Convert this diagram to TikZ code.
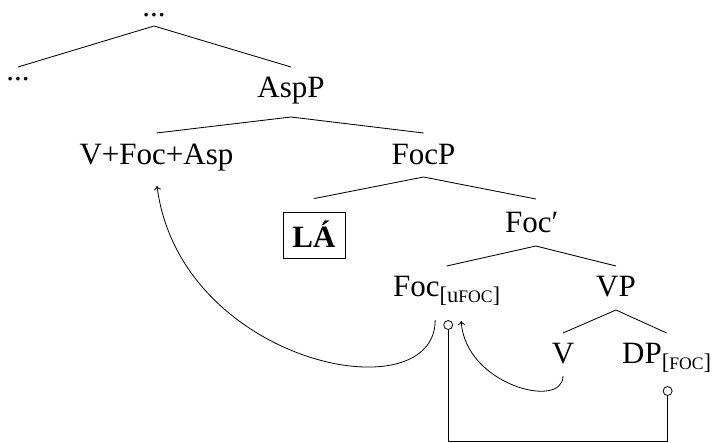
\documentclass[tikz,border=0pt]{standalone}
\usepackage{fontspec}
\setmainfont{Liberation Serif}
\usetikzlibrary{arrows.meta,calc}
\newcommand{\subsc}[1]{\raisebox{-6pt}{\fontsize{22.5}{26}\selectfont #1}}
\newcommand{\smc}[1]{{\fontsize{17.6}{20}\selectfont #1}}
\begin{document}
\begin{tikzpicture}[x=1pt,y=1pt,
  every node/.style={font=\fontsize{31}{37}\selectfont, inner sep=0pt},
  lbl/.style={anchor=base},
  br/.style={line width=0.85pt},
  mv/.style={line width=0.8pt, -{To[length=4pt,width=7pt]}},
  ring/.style={circle, draw, line width=0.8pt, minimum size=9pt, inner sep=0pt}]
\useasboundingbox (0,0) rectangle (717,-443);
% nodes
\node[lbl] (top) at (154,-17) {...};
\node[lbl] (ld) at (18,-81) {...};
\node[lbl] (asp) at (291,-98) {AspP};
\node[lbl] (vfa) at (156.5,-165) {V+Foc+Asp};
\node[lbl] (focp) at (423.5,-165) {FocP};
\node[anchor=base, draw, line width=0.8pt, inner xsep=9.5pt, inner ysep=0pt, text height=36pt, text depth=10pt] (la) at (314,-248) {\textbf{LÁ}};
\node[anchor=base west] (fbar) at (505,-233) {Foc′};
\node[anchor=base west] (foc) at (393,-297) {Foc\subsc{[u\smc{FOC}]}};
\node[lbl] (vp) at (616,-297) {VP};
\node[lbl] (v) at (563,-363) {V};
\node[anchor=base west] (dp) at (622,-363) {DP\subsc{[\smc{FOC}]}};
% tree branches
\draw[br] ([yshift=14pt]ld.base) -- ([yshift=-9pt]top.base) -- ([yshift=31pt]asp.base);
\draw[br] ([yshift=32pt]vfa.base) -- ([yshift=-19pt]asp.base) -- ([yshift=32pt]focp.base);
\draw[br] ([yshift=13pt]la.north) -- ([yshift=-12pt]focp.base) -- ([xshift=4pt,yshift=34pt]fbar.base);
\draw[br] ([yshift=31pt]foc.base) -- ([xshift=4pt,yshift=-13pt]fbar.base) -- ([yshift=31pt]vp.base);
\draw[br] ([yshift=30pt]v.base) -- ([yshift=-13pt]vp.base) -- ([yshift=30pt]dp.base);
% agree rings and bracket
\node[ring] (c1) at ($(foc.base)+(1.5,-28)$) {};
\node[ring] (c2) at ($(dp.base)+(1,-28)$) {};
\coordinate (bot) at (0,-441.5);
\draw[br] (c1.south) |- (bot -| c2.south) -- (c2.south);
% movement arrows
\coordinate (s1) at ($(foc.base)+(-11.5,-23)$);
\coordinate (a1) at ($(vfa.base)+(0.5,-21)$);
\draw[mv] (s1) .. controls ($(s1)+(0,-95)$) and ($(a1)+(23,-178)$) .. (a1);
\coordinate (s2) at ($(v.base)+(0,-13)$);
\coordinate (a2) at ($(foc.base)+(14.5,-24)$);
\draw[mv] (s2) .. controls ($(s2)+(0,-34)$) and ($(a2)+(4,-64)$) .. (a2);
\end{tikzpicture}
\end{document}
